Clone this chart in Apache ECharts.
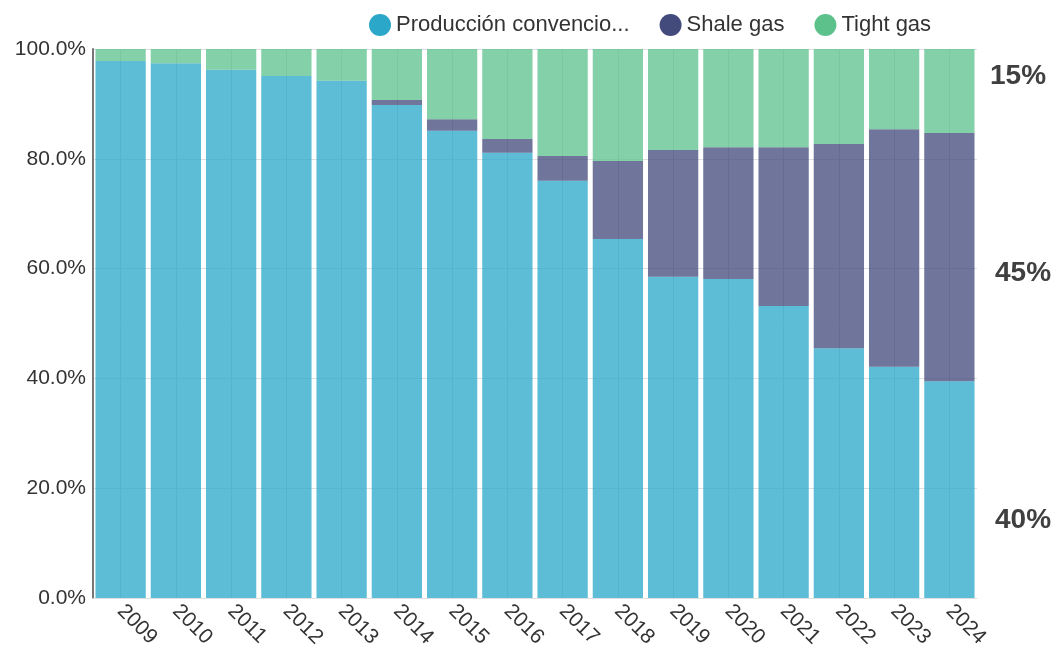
<!DOCTYPE html>
<html>
<head>
<meta charset="utf-8">
<script src="https://cdn.jsdelivr.net/npm/echarts@6/dist/echarts.min.js"></script>
<style>
  html, body { margin: 0; padding: 0; background: #fff; }
  #gas_mix_chart { width: 1059px; height: 655px; }
</style>
</head>
<body>
<div id="gas_mix_chart"></div>
<script>
// years on the x axis
var years = ['2009', '2010', '2011', '2012', '2013', '2014', '2015', '2016',
             '2017', '2018', '2019', '2020', '2021', '2022', '2023', '2024'];

// shares of total production, in %
var convencional = [97.8, 97.4, 96.2, 95.1, 94.2, 89.8, 85.1, 81.1,
                    76.0, 65.4, 58.5, 58.1, 53.2, 45.5, 42.1, 39.5];
var shale = [0, 0, 0, 0, 0, 0.9, 2.1, 2.5,
             4.5, 14.2, 23.1, 24.0, 28.9, 37.2, 43.3, 45.2];
var tight = [2.2, 2.6, 3.8, 4.9, 5.8, 9.3, 12.8, 16.4,
             19.5, 20.4, 18.4, 17.9, 17.9, 17.3, 14.6, 15.3];

var seriesNames = ['Producción convencional', 'Shale gas', 'Tight gas'];
var colors = ['#2aa7c9', '#434b7c', '#5dc18c'];

// side notes for the last year: tight, shale, conventional
var sideNotes = ['15%', '45%', '40%'];

var font = '"Liberation Sans", Arial, sans-serif';

function makeSeries(name, values, color) {
    return {
        name: name,
        type: 'bar',
        stack: 'total',
        barCategoryGap: '9%',
        data: values,
        itemStyle: { color: color, opacity: 0.76 },
        emphasis: { disabled: true }
    };
}

var chart = echarts.init(document.getElementById('gas_mix_chart'));
chart.setOption({
    animation: false,
    color: colors,
    textStyle: { fontFamily: font },
    grid: { left: 93, right: 82, top: 49, bottom: 57, containLabel: false },
    legend: {
        left: 364,
        top: 9,
        icon: 'circle',
        itemWidth: 22,
        itemHeight: 22,
        itemGap: 30,
        itemStyle: { opacity: 1 },
        textStyle: { fontSize: 22, color: '#333', fontFamily: font },
        formatter: function (name) {
            return name.length > 20 ? name.slice(0, 20) + '...' : name;
        },
        data: seriesNames
    },
    xAxis: {
        type: 'category',
        data: years,
        axisLine: { show: true, lineStyle: { color: '#e0e0e0', width: 1 } },
        axisTick: { show: false },
        axisLabel: {
            rotate: -45,
            margin: 10,
            fontSize: 21,
            color: '#333',
            fontFamily: font
        },
        splitLine: { show: true, alignWithLabel: true, lineStyle: { color: '#d9d9d9', width: 1 } }
    },
    yAxis: {
        type: 'value',
        min: 0,
        max: 100,
        interval: 20,
        axisLine: { show: true, lineStyle: { color: '#777', width: 2 } },
        axisTick: { show: false },
        axisLabel: {
            margin: 7,
            fontSize: 21,
            color: '#333',
            fontFamily: font,
            formatter: function (v) { return v.toFixed(1) + '%'; }
        },
        splitLine: { show: true, lineStyle: { color: '#e0e0e0', width: 1 } }
    },
    graphic: [
        { type: 'text', left: 990, top: 62, style: { text: sideNotes[0], font: 'bold 28px ' + font, fill: '#404040' } },
        { type: 'text', left: 995, top: 259, style: { text: sideNotes[1], font: 'bold 28px ' + font, fill: '#404040' } },
        { type: 'text', left: 995, top: 506, style: { text: sideNotes[2], font: 'bold 28px ' + font, fill: '#404040' } }
    ],
    series: [
        makeSeries(seriesNames[0], convencional, colors[0]),
        makeSeries(seriesNames[1], shale, colors[1]),
        makeSeries(seriesNames[2], tight, colors[2])
    ]
});
</script>
</body>
</html>
